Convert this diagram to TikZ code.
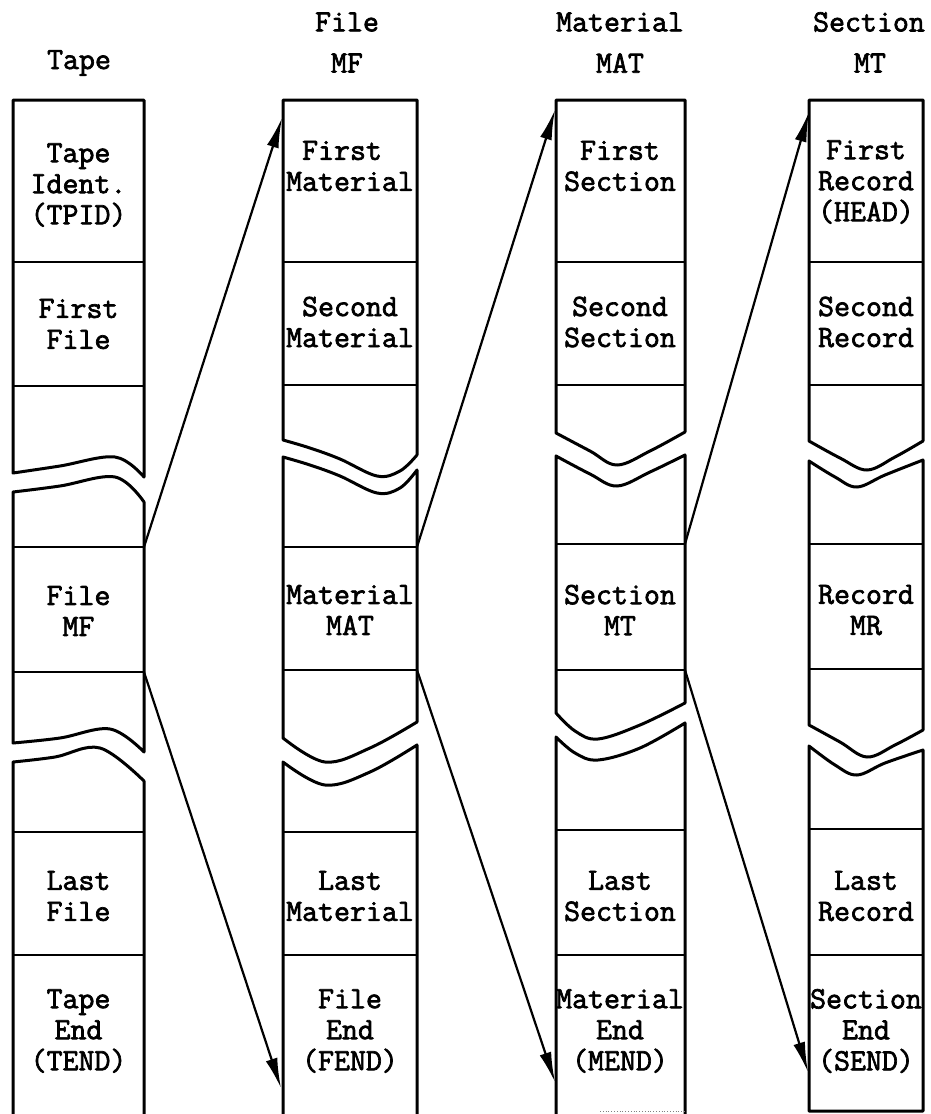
\documentclass[tikz,border=0pt]{standalone}
\usepackage{fontspec}
\newfontfamily\typed{Latin Modern Mono}[FakeBold=2.2]
\usetikzlibrary{arrows.meta}
\tikzset{
  outline/.style={line width=3pt, line join=round, line cap=round},
  divider/.style={line width=2.2pt},
  link/.style={line width=2.2pt, -{Latex[length=30pt,width=12pt]}},
  label/.style={font=\typed\fontsize{31}{31}\selectfont, align=center, inner sep=0pt},
  wave/.style={smooth, tension=0.6},
}
\begin{document}
\begin{tikzpicture}[x=1pt,y=-1pt]
\useasboundingbox (0,0) rectangle (931,1114);

% ---------- headings ----------
\node[label] (hTape) at (79,63) {Tape};
\node[label] (hFile) at (347,22) {File};
\node[label] (hMF)   at (347,63) {MF};
\node[label] (hMat)  at (620,22) {Material};
\node[label] (hMAT)  at (620,63) {MAT};
\node[label] (hSec)  at (869,22) {Section};
\node[label] (hMT)   at (870,63) {MT};

% ---------- column 1: tape ----------
\draw[outline] (144,477) -- (144,100) -- (13,100) -- (13,473)
  -- plot[wave] coordinates {(13,473) (60,466) (115,457) (144,477)};
\draw[outline] plot[wave] coordinates {(13,492) (60,486) (115,477) (144,502)}
  -- (144,752)
  -- plot[wave] coordinates {(144,752) (110,729) (60,738) (13,743)} -- cycle;
\draw[outline] (13,1114) -- (13,762)
  -- plot[wave] coordinates {(13,762) (55,757) (100,748) (144,781)} -- (144,1114);
\foreach \y in {262,386,547,672,832,955} \draw[divider] (13,\y) -- (144,\y);

\node[label] (tpid)  at (78.5,185) {Tape\\Ident.\\(TPID)};
\node[label] (tfirst) at (78.5,324) {First\\File};
\node[label] (tmf)   at (78.5,611) {File\\MF};
\node[label] (tlast) at (78.5,896) {Last\\File};
\node[label] (tend)  at (78.5,1031) {Tape\\End\\(TEND)};

% ---------- column 2: file ----------
\draw[outline] (417,455) -- (417,100) -- (283,100) -- (283,440)
  -- plot[wave] coordinates {(283,440) (310,448) (340,459) (377,476) (400,471) (417,455)};
\draw[outline] plot[wave] coordinates {(283,457) (310,465) (340,476) (377,493) (400,488) (417,470)}
  -- (417,722)
  -- plot[wave] coordinates {(417,722) (370,748) (325,762) (283,738)} -- cycle;
\draw[outline] (283,1114) -- (283,762)
  -- plot[wave] coordinates {(283,762) (325,785) (370,772) (417,745)} -- (417,1114);
\foreach \y in {262,385,547,670,832,955} \draw[divider] (283,\y) -- (417,\y);

\node[label] (ffirst) at (350,166) {\hphantom{M}First\hphantom{MM}\\Material};
\node[label] (fsecond) at (350,322) {Second\\Material};
\node[label] (fmat)  at (350,610) {Material\\MAT};
\node[label] (flast) at (350,896) {Last\\Material};
\node[label] (fend)  at (350,1031) {File\\End\\(FEND)};

% ---------- column 3: material ----------
\draw[outline] (685,432) -- (685,100) -- (556,100) -- (556,433)
  -- plot[wave] coordinates {(556,433) (590,451) (617,465) (650,451) (685,432)};
\draw[outline] plot[wave] coordinates {(556,456) (590,474) (617,486) (650,472) (685,455)}
  -- (685,703)
  -- plot[wave] coordinates {(685,703) (640,725) (598,739) (575,731) (556,713)} -- cycle;
\draw[outline] (556,1114) -- (556,737)
  -- plot[wave] coordinates {(556,737) (575,753) (598,760) (640,748) (685,723)} -- (685,1114);
\foreach \y in {262,385,544,670,830,955} \draw[divider] (556,\y) -- (685,\y);
\draw[line width=0.8pt, gray, dotted] (600,1111) -- (685,1111);

\node[label] (mfirst) at (620,166) {First\\Section};
\node[label] (msecond) at (620,322) {Second\\Section};
\node[label] (mmt)   at (620,610) {Section\\MT};
\node[label] (mlast) at (620,896) {Last\\Section};
\node[label] (mend)  at (620,1031) {Material\\End\\(MEND)};

% ---------- column 4: section ----------
\draw[outline] (923,441) -- (923,100) -- (809,100) -- (809,441)
  -- plot[wave] coordinates {(809,441) (840,458) (867,470) (895,457) (923,441)};
\draw[outline] plot[wave] coordinates {(809,461) (835,477) (857,487) (885,475) (923,460)}
  -- (923,730)
  -- plot[wave] coordinates {(923,730) (895,745) (867,757) (840,742) (809,725)} -- cycle;
\draw[outline] (809,1111) -- (809,746)
  -- plot[wave] coordinates {(809,746) (835,765) (857,775) (885,763) (923,750)} -- (923,1111) -- cycle;
\foreach \y in {262,385,544,669,829,955} \draw[divider] (809,\y) -- (923,\y);

\node[label] (shead) at (866,182) {First\\Record\\(HEAD)};
\node[label] (ssecond) at (866,322) {Second\\Record};
\node[label] (smr)   at (866,610) {Record\\MR};
\node[label] (slast) at (866,896) {Last\\Record};
\node[label] (send)  at (866,1031) {Section\\End\\(SEND)};

% ---------- connectors ----------
\coordinate (c1a) at (144,547);   \coordinate (c1b) at (144,672);
\coordinate (c2a) at (417,547);   \coordinate (c2b) at (417,670);
\coordinate (c3a) at (685,544);   \coordinate (c3b) at (685,670);
\coordinate (t2a) at (282,118);   \coordinate (t2b) at (281,1088);
\coordinate (t3a) at (555,110);   \coordinate (t3b) at (555,1082);
\coordinate (t4a) at (809,112);   \coordinate (t4b) at (808,1072);

\draw[link] (c1a) -- (t2a);
\draw[link] (c1b) -- (t2b);
\draw[link] (c2a) -- (t3a);
\draw[link] (c2b) -- (t3b);
\draw[link] (c3a) -- (t4a);
\draw[link] (c3b) -- (t4b);
\end{tikzpicture}
\end{document}
